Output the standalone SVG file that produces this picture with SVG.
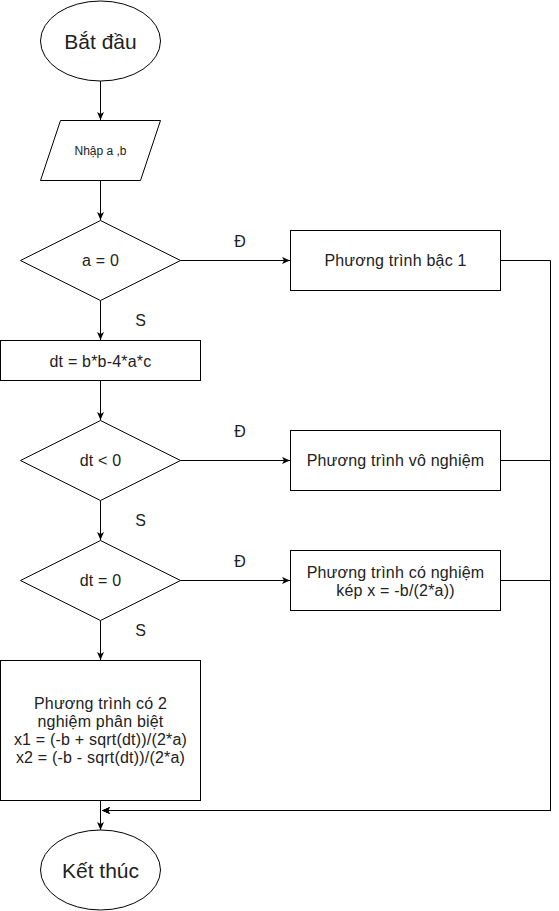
<svg xmlns="http://www.w3.org/2000/svg" width="559" height="911" viewBox="0 0 559 911">
<style>
.s{fill:#fff;stroke:#000;stroke-width:1}
.c{fill:none;stroke:#000;stroke-width:1}
text{font-family:"Liberation Sans",Arial,sans-serif;fill:#222;text-anchor:middle}
.t{font-size:16px;letter-spacing:0.2px}
.big{font-size:21px}
.sm{font-size:12px}
.lb{font-size:16px}
</style>
<defs>
<marker id="ar" markerWidth="9" markerHeight="8" refX="8" refY="3.5" orient="auto" markerUnits="userSpaceOnUse">
<path d="M0,0 L8,3.5 L0,7 L2,3.5 z" fill="#000"/>
</marker>
</defs>
<g id="connectors">
<path class="c" d="M100.5,81 V120" marker-end="url(#ar)"/>
<path class="c" d="M100.5,180.5 V220" marker-end="url(#ar)"/>
<path class="c" d="M180.5,260.5 H290" marker-end="url(#ar)"/>
<path class="c" d="M100.5,300.5 V340" marker-end="url(#ar)"/>
<path class="c" d="M100.5,380.5 V420" marker-end="url(#ar)"/>
<path class="c" d="M180.5,460.5 H290" marker-end="url(#ar)"/>
<path class="c" d="M100.5,500.5 V540" marker-end="url(#ar)"/>
<path class="c" d="M180.5,580.5 H290" marker-end="url(#ar)"/>
<path class="c" d="M100.5,620.5 V660" marker-end="url(#ar)"/>
<path class="c" d="M100.5,800.5 V830" marker-end="url(#ar)"/>
<path class="c" d="M500.5,260.5 H550.5 V810.5 H102" marker-end="url(#ar)"/>
<path class="c" d="M500.5,460.5 H550.5 V810.5 H102" marker-end="url(#ar)"/>
<path class="c" d="M500.5,580.5 H550.5 V810.5 H102" marker-end="url(#ar)"/>
<text class="lb" x="240" y="247">Đ</text>
<text class="lb" x="140.5" y="325.5">S</text>
<text class="lb" x="240" y="437">Đ</text>
<text class="lb" x="140.5" y="525.5">S</text>
<text class="lb" x="240" y="567">Đ</text>
<text class="lb" x="140.5" y="636">S</text>
</g>
<g id="start">
<ellipse class="s" cx="100.5" cy="41" rx="60" ry="40"/>
<text class="big" x="100.5" y="49">Bắt đầu</text>
</g>
<g id="input">
<polygon class="s" points="60.5,120.5 160.5,120.5 140.5,180.5 40.5,180.5"/>
<text class="sm" x="100.5" y="155">Nhập a ,b</text>
</g>
<g id="d1">
<polygon class="s" points="100.5,220.5 180.5,260.5 100.5,300.5 20.5,260.5"/>
<text class="t" x="100.5" y="266">a = 0</text>
</g>
<g id="p1">
<rect class="s" x="290.5" y="230.5" width="210" height="60"/>
<text class="t" x="395.5" y="266">Phương trình bậc 1</text>
</g>
<g id="dt">
<rect class="s" x="0.5" y="340.5" width="200" height="40"/>
<text class="t" x="100.5" y="366.5">dt = b*b-4*a*c</text>
</g>
<g id="d2">
<polygon class="s" points="100.5,420.5 180.5,460.5 100.5,500.5 20.5,460.5"/>
<text class="t" x="100.5" y="466">dt &lt; 0</text>
</g>
<g id="p2">
<rect class="s" x="290.5" y="430.5" width="210" height="60"/>
<text class="t" x="395.5" y="466">Phương trình vô nghiệm</text>
</g>
<g id="d3">
<polygon class="s" points="100.5,540.5 180.5,580.5 100.5,620.5 20.5,580.5"/>
<text class="t" x="100.5" y="586">dt = 0</text>
</g>
<g id="p3">
<rect class="s" x="290.5" y="550.5" width="210" height="60"/>
<text class="t" x="395.5" y="578">Phương trình có nghiệm</text>
<text class="t" x="395.5" y="596">kép x = -b/(2*a))</text>
</g>
<g id="p4">
<rect class="s" x="0.5" y="660.5" width="200" height="140"/>
<text class="t" x="100.5" y="709">Phương trình có 2</text>
<text class="t" x="100.5" y="727">nghiệm phân biệt</text>
<text class="t" x="100.5" y="745">x1 = (-b + sqrt(dt))/(2*a)</text>
<text class="t" x="100.5" y="763">x2 = (-b - sqrt(dt))/(2*a)</text>
</g>
<g id="end">
<ellipse class="s" cx="100.5" cy="870" rx="60" ry="40"/>
<text class="big" x="100.5" y="878">Kết thúc</text>
</g>
</svg>
